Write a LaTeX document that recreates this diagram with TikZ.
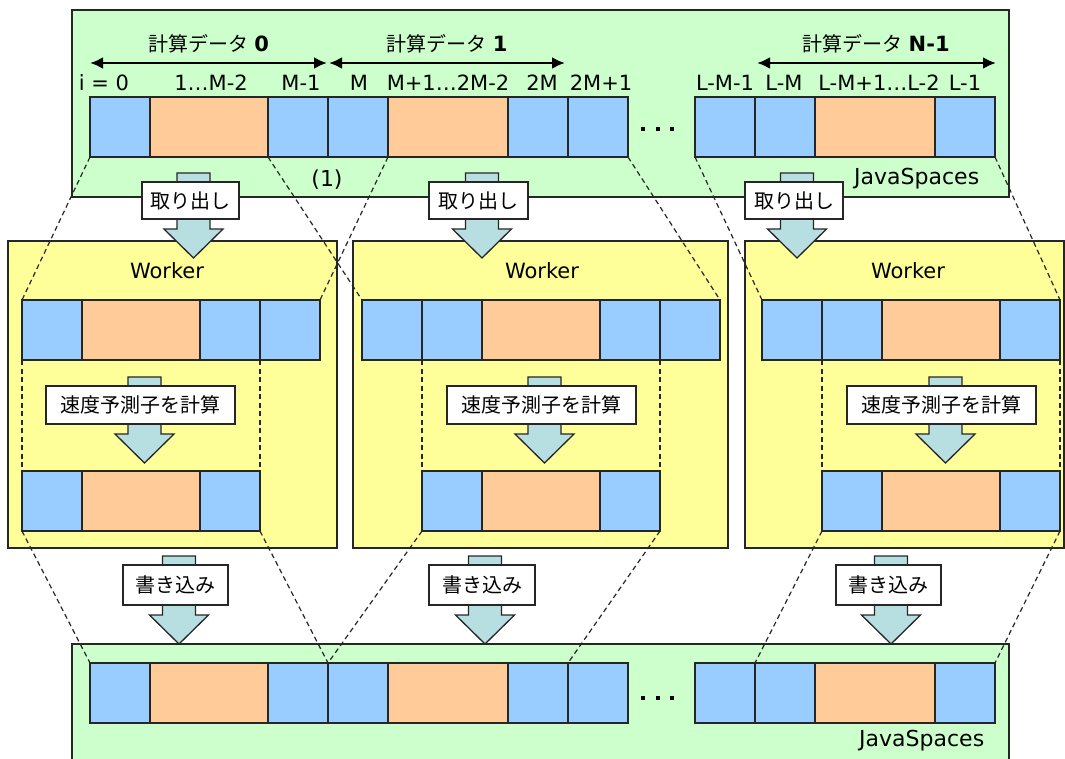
\documentclass[tikz,border=0pt]{standalone}
\usepackage{fontspec}
\setmainfont{DejaVu Sans}
\newfontfamily\jpfont{Noto Sans CJK JP}
\usetikzlibrary{arrows.meta}
\definecolor{jsgreen}{HTML}{CCFFCC}
\definecolor{wyellow}{HTML}{FFFF99}
\definecolor{cblue}{HTML}{99CCFF}
\definecolor{corange}{HTML}{FFCC99}
\definecolor{arrfill}{HTML}{B7DEE1}
\definecolor{edgecol}{HTML}{262626}
\tikzset{
  cell/.style={draw=edgecol, line width=1.6pt, minimum width=#1, minimum height=60pt,
    anchor=north west, inner sep=0pt, outer sep=0pt},
  bc/.style={cell=60pt, fill=cblue},
  oc/.style={cell=#1, fill=corange},
  jsbox/.style={draw=edgecol, line width=1.4pt, fill=jsgreen},
  wbox/.style={draw=edgecol, line width=1.4pt, fill=wyellow},
  dl/.style={draw=edgecol, line width=1.2pt, dash pattern=on 5pt off 3.5pt},
  idx/.style={font=\fontsize{21}{25}\selectfont, inner sep=0pt, anchor=base},
  head/.style={font=\fontsize{20}{24}\selectfont, inner sep=0pt, anchor=base},
  barrow/.style={draw=edgecol, line width=1.3pt, fill=arrfill},
  lbl/.style={draw=edgecol, line width=1.3pt, fill=white, inner sep=0pt,
    minimum width=#1, minimum height=38pt, font=\jpfont\fontsize{20}{24}\selectfont},
  harrow/.style={line width=2.8pt, {Latex[length=13pt,width=12pt]}-{Latex[length=13pt,width=12pt]}},
  sq/.style={fill=black, minimum size=4.5pt, inner sep=0pt}
}
\newcommand\blockarrow[4]{\draw[barrow] ({#1-16.5},#2) -- ({#1+16.5},#2) -- ({#1+16.5},#3) -- ({#1+29.5},#3) -- (#1,#4) -- ({#1-29.5},#3) -- ({#1-16.5},#3) -- cycle;}
\begin{document}
\begin{tikzpicture}[x=1pt,y=-1pt]
\useasboundingbox (0,0) rectangle (1065,758);
\clip (0,0) rectangle (1065,758);
% containers
\draw[jsbox] (72,10) rectangle (1009,197);
\draw[wbox] (8,241) rectangle (337,548);
\draw[wbox] (353,241) rectangle (728,548);
\draw[wbox] (745,241) rectangle (1064,548);
\draw[jsbox] (72,644) rectangle (1009,790);
% top row
\node[bc] (t0) at (90,97) {};
\node[oc=118pt] (t1) at (150,97) {};
\node[bc] (t2) at (268,97) {};
\node[bc] (t3) at (328,97) {};
\node[oc=120pt] (t4) at (388,97) {};
\node[bc] (t5) at (508,97) {};
\node[bc] (t6) at (568,97) {};
\node[bc] (r0) at (695,97) {};
\node[bc] (r1) at (755,97) {};
\node[oc=120pt] (r2) at (815,97) {};
\node[bc] (r3) at (935,97) {};
% worker 1
\node[bc] (a0) at (22,300) {};
\node[oc=118pt] (a1) at (82,300) {};
\node[bc] (a2) at (200,300) {};
\node[bc] (a3) at (260,300) {};
\node[bc] (a4) at (22,471) {};
\node[oc=118pt] (a5) at (82,471) {};
\node[bc] (a6) at (200,471) {};
% worker 2
\node[bc] (b0) at (362,300) {};
\node[bc] (b1) at (422,300) {};
\node[oc=118pt] (b2) at (482,300) {};
\node[bc] (b3) at (600,300) {};
\node[bc] (b4) at (660,300) {};
\node[bc] (b5) at (422,471) {};
\node[oc=118pt] (b6) at (482,471) {};
\node[bc] (b7) at (600,471) {};
% worker 3
\node[bc] (c0) at (762,300) {};
\node[bc] (c1) at (822,300) {};
\node[oc=118pt] (c2) at (882,300) {};
\node[bc] (c3) at (1000,300) {};
\node[bc] (c4) at (822,471) {};
\node[oc=118pt] (c5) at (882,471) {};
\node[bc] (c6) at (1000,471) {};
% bottom row
\node[bc] (u0) at (90,663) {};
\node[oc=118pt] (u1) at (150,663) {};
\node[bc] (u2) at (268,663) {};
\node[bc] (u3) at (328,663) {};
\node[oc=120pt] (u4) at (388,663) {};
\node[bc] (u5) at (508,663) {};
\node[bc] (u6) at (568,663) {};
\node[bc] (v0) at (695,663) {};
\node[bc] (v1) at (755,663) {};
\node[oc=120pt] (v2) at (815,663) {};
\node[bc] (v3) at (935,663) {};
% dashed guides
\draw[dl] (t0.south west) -- (a0.north west);
\draw[dl] (t3.south east) -- (a3.north east);
\draw[dl] (t2.south west) -- (b0.north west);
\draw[dl] (t6.south east) -- (b4.north east);
\draw[dl] (r0.south west) -- (c0.north west);
\draw[dl] (r3.south east) -- (c3.north east);
\draw[dl] (a0.south west) -- (a4.north west);
\draw[dl] (a2.south east) -- (a6.north east);
\draw[dl] (b1.south west) -- (b5.north west);
\draw[dl] (b3.south east) -- (b7.north east);
\draw[dl] (c1.south west) -- (c4.north west);
\draw[dl] (c3.south east) -- (c6.north east);
\draw[dl] (a4.south west) -- (u0.north west);
\draw[dl] (a6.south east) -- (u2.north east);
\draw[dl] (b5.south west) -- (u3.north west);
\draw[dl] (b7.south east) -- (u5.north east);
\draw[dl] (c4.south west) -- (v1.north west);
\draw[dl] (c6.south east) -- (v3.north east);
% headings
\coordinate (h0a) at (90,63); \coordinate (h0b) at (327,63);
\coordinate (h1a) at (329,63); \coordinate (h1b) at (565,63);
\coordinate (h2a) at (757,63); \coordinate (h2b) at (996,63);
\draw[harrow] (h0a) -- (h0b);
\draw[harrow] (h1a) -- (h1b);
\draw[harrow] (h2a) -- (h2b);
\node[head] (g0) at (208.5,51) {{\jpfont 計算データ} \textbf{\fontsize{21}{24}\selectfont 0}};
\node[head] (g1) at (447,51) {{\jpfont 計算データ} \textbf{\fontsize{21}{24}\selectfont 1}};
\node[head] (g2) at (876,51) {{\jpfont 計算データ} \textbf{\fontsize{21}{24}\selectfont N-1}};
% index labels
\node[idx] (i0) at (104,90) {i = 0};
\node[idx] (i1) at (211,90) {1…M-2};
\node[idx] (i2) at (301,90) {M-1};
\node[idx] (i3) at (359,90) {M};
\node[idx] (i4) at (448,90) {M+1…2M-2};
\node[idx] (i5) at (542,90) {2M};
\node[idx] (i6) at (601,90) {2M+1};
\node[idx] (i7) at (725,90) {L-M-1};
\node[idx] (i8) at (784,90) {L-M};
\node[idx] (i9) at (879,90) {L-M+1…L-2};
\node[idx] (i10) at (965,90) {L-1};
% dots
\node[sq] (d1) at (643,129) {};
\node[sq] (d2) at (658,129) {};
\node[sq] (d3) at (672,129) {};
\node[sq] (d4) at (643,698) {};
\node[sq] (d5) at (658,698) {};
\node[sq] (d6) at (672,698) {};
% other texts
\node[font=\fontsize{22}{26}\selectfont, inner sep=0pt] (one) at (327,180) {(1)};
\node[font=\fontsize{22}{26}\selectfont, inner sep=0pt, anchor=base west] (js1) at (854,184.5) {JavaSpaces};
\node[font=\fontsize{22}{26}\selectfont, inner sep=0pt, anchor=base west] (js2) at (859,746) {JavaSpaces};
\node[idx] (wk1) at (167,278) {Worker};
\node[idx] (wk2) at (542,278) {Worker};
\node[idx] (wk3) at (908,278) {Worker};
% take-out arrows
\blockarrow{193.5}{173}{229}{258}
\node[lbl=97pt, minimum height=37pt] (x1) at (190.5,200.5) {取り出し};
\blockarrow{482}{173}{229}{258}
\node[lbl=99pt, minimum height=37pt] (x2) at (478.5,200.5) {取り出し};
\blockarrow{797}{173}{229}{258}
\node[lbl=98pt, minimum height=37pt] (x3) at (794,200.5) {取り出し};
% compute arrows
\blockarrow{144.5}{377}{434}{463}
\node[lbl=189pt] (k1) at (140.5,405) {速度予測子を計算};
\blockarrow{544.5}{377}{434}{463}
\node[lbl=189pt] (k2) at (541.5,405) {速度予測子を計算};
\blockarrow{945.5}{377}{434}{463}
\node[lbl=189pt] (k3) at (941.5,405) {速度予測子を計算};
% write arrows
\blockarrow{179}{556}{615}{644}
\node[lbl=105pt, minimum height=40pt] (y1) at (175.5,585) {書き込み};
\blockarrow{485}{556}{615}{644}
\node[lbl=106pt, minimum height=40pt] (y2) at (482,585) {書き込み};
\blockarrow{891}{556}{615}{644}
\node[lbl=105pt, minimum height=40pt] (y3) at (888.5,585) {書き込み};
\end{tikzpicture}
\end{document}
